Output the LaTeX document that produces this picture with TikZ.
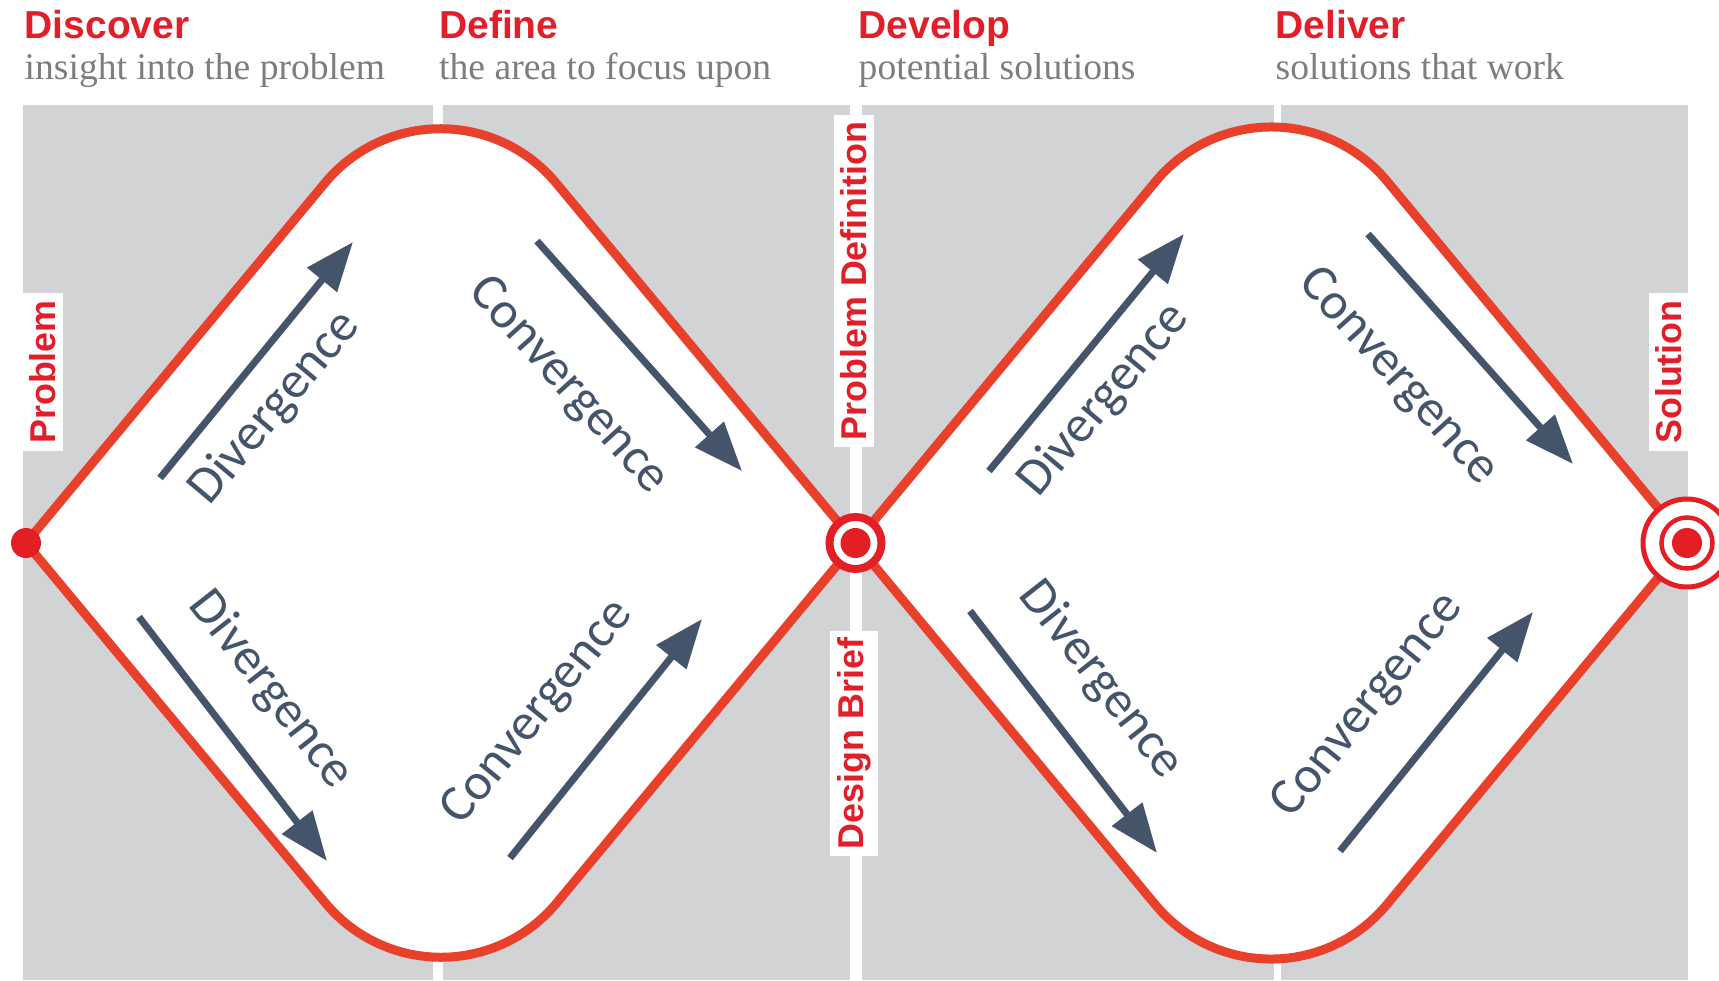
\documentclass[tikz,border=0pt]{standalone}
\usepackage{fontspec}
\setmainfont{Liberation Serif}
\newfontfamily\headfont{Liberation Sans}
\newfontfamily\flowfont{Carlito}
\usetikzlibrary{arrows.meta}

\definecolor{panelgray}{RGB}{209,211,213}
\definecolor{linered}{RGB}{232,64,42}
\definecolor{dotred}{RGB}{227,30,36}
\definecolor{headred}{RGB}{226,30,40}
\definecolor{subgray}{RGB}{125,125,125}
\definecolor{slate}{RGB}{68,84,106}

\begin{document}
\begin{tikzpicture}[
  phase/.style={anchor=base west, inner sep=0pt, text=headred, font=\headfont\bfseries\fontsize{11.1}{13}\selectfont},
  sub/.style={anchor=base west, inner sep=0pt, text=subgray, font=\fontsize{10.7}{13}\selectfont},
  tag/.style={rotate=90, fill=white, inner sep=0.07cm, text=headred, font=\headfont\bfseries\fontsize{10.2}{12}\selectfont},
  flow/.style={line width=0.07cm, draw=slate, -{Triangle[length=0.49cm,width=0.37cm]}},
  flowtext/.style={text=slate, font=\flowfont\fontsize{14.8}{17}\selectfont},
  outline/.style={line width=0.09cm, draw=linered, fill=white}
]
\useasboundingbox (0,0) rectangle (17.19,9.8);
% grey panels behind the diamonds
\fill[panelgray] (0.23,0) rectangle (4.33,8.75);
\fill[panelgray] (4.43,0) rectangle (8.50,8.75);
\fill[panelgray] (8.62,0) rectangle (12.74,8.75);
\fill[panelgray] (12.81,0) rectangle (16.88,8.75);

\coordinate (problem) at (0.26,4.37);
\coordinate (brief) at (8.555,4.37);
\coordinate (solution) at (16.87,4.37);

% the two diamonds
\draw[outline] (problem) -- ++(50.3:4.679) arc[start angle=140.3, end angle=39.7, radius=1.503]
  -- (brief) -- ++(230.3:4.679) arc[start angle=-39.7, end angle=-140.3, radius=1.503] -- cycle;
\draw[outline] (brief) -- ++(50.3:4.702) arc[start angle=140.3, end angle=39.7, radius=1.503]
  -- (solution) -- ++(230.3:4.702) arc[start angle=-39.7, end angle=-140.3, radius=1.503] -- cycle;

% dots
\fill[dotred] (problem) circle (0.15);
\draw[dotred, line width=0.08cm, fill=white] (brief) circle (0.26);
\fill[dotred] (brief) circle (0.15);
\draw[dotred, line width=0.05cm, fill=white] (solution) circle (0.44);
\draw[dotred, line width=0.045cm] (solution) circle (0.255);
\fill[dotred] (solution) circle (0.15);

% headings
\node[phase] (discover) at (0.24,9.42) {Discover};
\node[sub] (discoversub) at (0.24,9.01) {insight into the problem};
\node[phase] (define) at (4.385,9.42) {Define};
\node[sub] (definesub) at (4.385,9.01) {the area to focus upon};
\node[phase] (develop) at (8.58,9.42) {Develop};
\node[sub] (developsub) at (8.58,9.01) {potential solutions};
\node[phase] (deliver) at (12.75,9.42) {Deliver};
\node[sub] (deliversub) at (12.75,9.01) {solutions that work};

% side tags
\node[tag] (problemtag) at (0.425,6.08) {Problem};
\node[tag] (deftag) at (8.54,6.99) {Problem Definition};
\node[tag] (brieftag) at (8.54,2.365) {Design Brief};
\node[tag] (solutiontag) at (16.69,6.08) {Solution};

% arrows, first diamond
\coordinate (a1) at (1.60,5.02); \coordinate (b1) at (3.53,7.38);
\coordinate (a2) at (5.37,7.39); \coordinate (b2) at (7.42,5.09);
\coordinate (a3) at (1.39,3.63); \coordinate (b3) at (3.27,1.19);
\coordinate (a4) at (5.10,1.22); \coordinate (b4) at (7.02,3.61);
\draw[flow] (a1) -- (b1);
\draw[flow] (a2) -- (b2);
\draw[flow] (a3) -- (b3);
\draw[flow] (a4) -- (b4);
\node[flowtext, rotate=50] (div1) at (2.75,5.72) {Divergence};
\node[flowtext, rotate=-48] (conv1) at (5.68,5.94) {Convergence};
\node[flowtext, rotate=-52] (div2) at (2.71,2.90) {Divergence};
\node[flowtext, rotate=51] (conv2) at (5.38,2.67) {Convergence};

% arrows, second diamond
\coordinate (a5) at (9.89,5.09); \coordinate (b5) at (11.84,7.46);
\coordinate (a6) at (13.68,7.46); \coordinate (b6) at (15.73,5.16);
\coordinate (a7) at (9.70,3.69); \coordinate (b7) at (11.57,1.27);
\coordinate (a8) at (13.40,1.29); \coordinate (b8) at (15.33,3.68);
\draw[flow] (a5) -- (b5);
\draw[flow] (a6) -- (b6);
\draw[flow] (a7) -- (b7);
\draw[flow] (a8) -- (b8);
\node[flowtext, rotate=50] (div3) at (11.04,5.80) {Divergence};
\node[flowtext, rotate=-48] (conv3) at (13.98,6.03) {Convergence};
\node[flowtext, rotate=-52] (div4) at (11.01,3.00) {Divergence};
\node[flowtext, rotate=51] (conv4) at (13.68,2.74) {Convergence};
\end{tikzpicture}
\end{document}
